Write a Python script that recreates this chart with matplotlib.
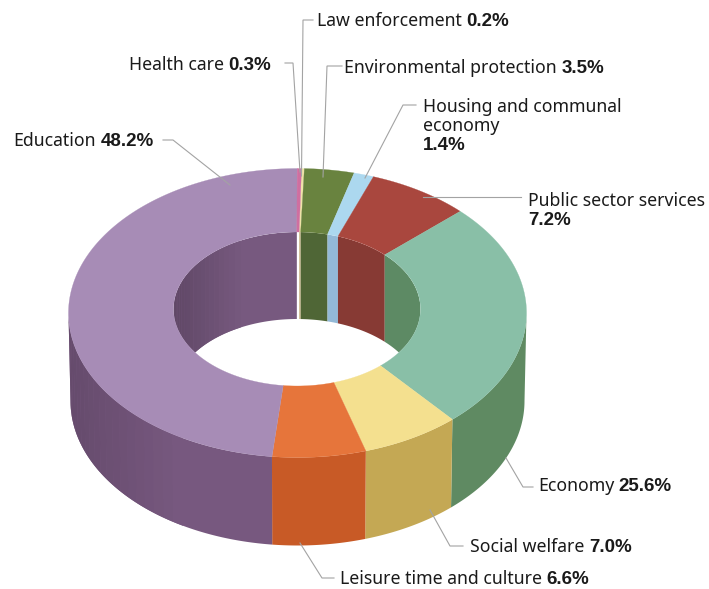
import numpy as np
import matplotlib
matplotlib.use("Agg")
import matplotlib.pyplot as plt
from matplotlib.colors import to_rgb
from matplotlib.patches import Polygon

# data (clockwise, starting from the top)
names = ["Law enforcement", "Environmental protection", "Housing and communal\neconomy",
         "Public sector services", "Economy", "Social welfare",
         "Leisure time and culture", "Education", "Health care"]
shares = [0.2, 3.5, 1.4, 7.2, 25.6, 7.0, 6.6, 48.2, 0.3]
top_colors = ["#efe3a8", "#69833f", "#acd8ef", "#a9473e", "#89bfa7", "#f4e08f", "#e6753b", "#a78cb6", "#cf6fa0"]
inner_colors = ["#cdb98a", "#4f6636", "#93b9d7", "#873a34", "#5d8a64", "#c4a854", "#c85a26", "#77597f", "#a8587f"]
outer_colors = ["#cdb98a", "#4f6636", "#93b9d7", "#873a34", "#5f8a62", "#c4a854", "#c85a26", "#77587f", "#a8587f"]

# geometry in image pixels
W, H = 709, 589
OUT = dict(cx=297.5, cy=313.0, rx=229.0, ry=144.5)
INN = dict(cx=297.0, cy=309.0, rx=123.5, ry=77.0)
DEPTH_OUT, BOTTOM_RX, DEPTH_IN = 88.0, 227.0, 87.0
ROT = 1.0

plt.rcParams["font.family"] = ["Noto Sans", "DejaVu Sans"]
fig = plt.figure(figsize=(W / 100, H / 100), dpi=100, facecolor="white")
ax = fig.add_axes([0, 0, 1, 1])
ax.set_xlim(0, W)
ax.set_ylim(H, 0)
ax.axis("off")


def pt(e, deg, rx=None, dy=0.0):
    t = np.radians(deg)
    return np.column_stack([e["cx"] + (rx or e["rx"]) * np.sin(t), e["cy"] + dy - e["ry"] * np.cos(t)])


edges = ROT + np.concatenate([[0], np.cumsum(shares)]) * 3.6

# clip shape for the inner wall
hole = Polygon(pt(INN, np.linspace(0, 360, 361)), closed=True, transform=ax.transData)


def wall(lo, hi, color, upper, lower, x0, span, floor, z, clip=None):
    """One wall piece: a solid base in the slice colour with soft shading on top."""
    if hi <= lo:
        return
    th = np.linspace(lo, hi, max(3, int(hi - lo) * 2 + 3))
    base = ax.fill(*np.vstack([upper(th), lower(th)[::-1]]).T, color=color, lw=0, zorder=z)[0]
    patches = [base]
    steps = np.linspace(lo, hi, max(2, int((hi - lo) / 3) + 2))
    for s0, s1 in zip(steps[:-1], steps[1:]):
        t = np.linspace(s0, s1, 3)
        up, dn = upper(t), lower(t)
        f = np.clip((up[:, 0].mean() - x0) / span, 0, 1)
        if f >= 1:
            continue
        col = tuple(c * (floor + (1 - floor) * f) for c in to_rgb(color))
        patches.append(ax.fill(*np.vstack([up, dn[::-1]]).T, color=col, lw=0, zorder=z)[0])
    if clip is not None:
        for p in patches:
            p.set_clip_path(clip)


for a0, a1, ci, co in zip(edges[:-1], edges[1:], inner_colors, outer_colors):
    for lo, hi in [(max(a0, 0), min(a1, 90)), (max(a0, 270), min(a1, 360))]:
        wall(lo, hi, ci, lambda t: pt(INN, t), lambda t: pt(INN, t, dy=DEPTH_IN),
             173, 70, 0.8, 1, hole)
    wall(max(a0, 90), min(a1, 270), co, lambda t: pt(OUT, t),
         lambda t: pt(OUT, t, rx=BOTTOM_RX, dy=DEPTH_OUT), 68, 110, 0.85, 2)

# top face
for a0, a1, c in zip(edges[:-1], edges[1:], top_colors):
    th = np.linspace(a0, a1, max(3, int(a1 - a0) * 2 + 3))
    ax.fill(*np.vstack([pt(OUT, th), pt(INN, th)[::-1]]).T, color=c, lw=0.2, zorder=3)

# leader lines
leaders = [
    [(313, 20), (303, 20), (301.5, 176)],
    [(285, 63), (293, 63), (300, 172)],
    [(342, 66), (327, 66), (323, 177)],
    [(416, 105), (403, 105), (365, 178)],
    [(163, 140), (173, 140), (230, 185)],
    [(521, 197), (423, 197)],
    [(533, 487), (523, 487), (506, 458)],
    [(463, 546), (450, 546), (430, 510)],
    [(334, 578), (322, 578), (300, 543)],
]
for seg in leaders:
    xs, ys = zip(*seg)
    ax.plot(xs, ys, color="#a3a3a3", lw=0.8, zorder=4, solid_joinstyle="miter")

# labels: pixel anchor (left, text baseline)
FS = 12.7
GAP = 4.5
pct = [f"{v:.1f}%" for v in shares]
txt = dict(color="#1a1a1a", fontsize=FS, va="baseline", ha="left", zorder=5)
bold = dict(txt, family="Liberation Sans", fontweight="bold", fontsize=13.5)
r = fig.canvas.get_renderer()


def label(x, y, name, share):
    t = ax.text(x, y, name, **txt)
    ax.text(t.get_window_extent(r).x1 + GAP, y, share, **bold)


label(317, 25.7, names[0], pct[0])
label(129, 70, names[8], pct[8])
label(344, 73.3, names[1], pct[1])
ax.text(423, 112.3, names[2].split("\n")[0], **txt)
ax.text(423, 131, names[2].split("\n")[1], **txt)
ax.text(423, 150, pct[2], **bold)
label(13.5, 146, names[7], pct[7])
ax.text(528, 206, names[3], **txt)
ax.text(528, 225, pct[3], **bold)
label(538, 490.7, names[4], pct[4])
label(470, 551.7, names[5], pct[5])
label(340, 584.5, names[6], pct[6])

fig.savefig("out.png", dpi=100, facecolor="white")
